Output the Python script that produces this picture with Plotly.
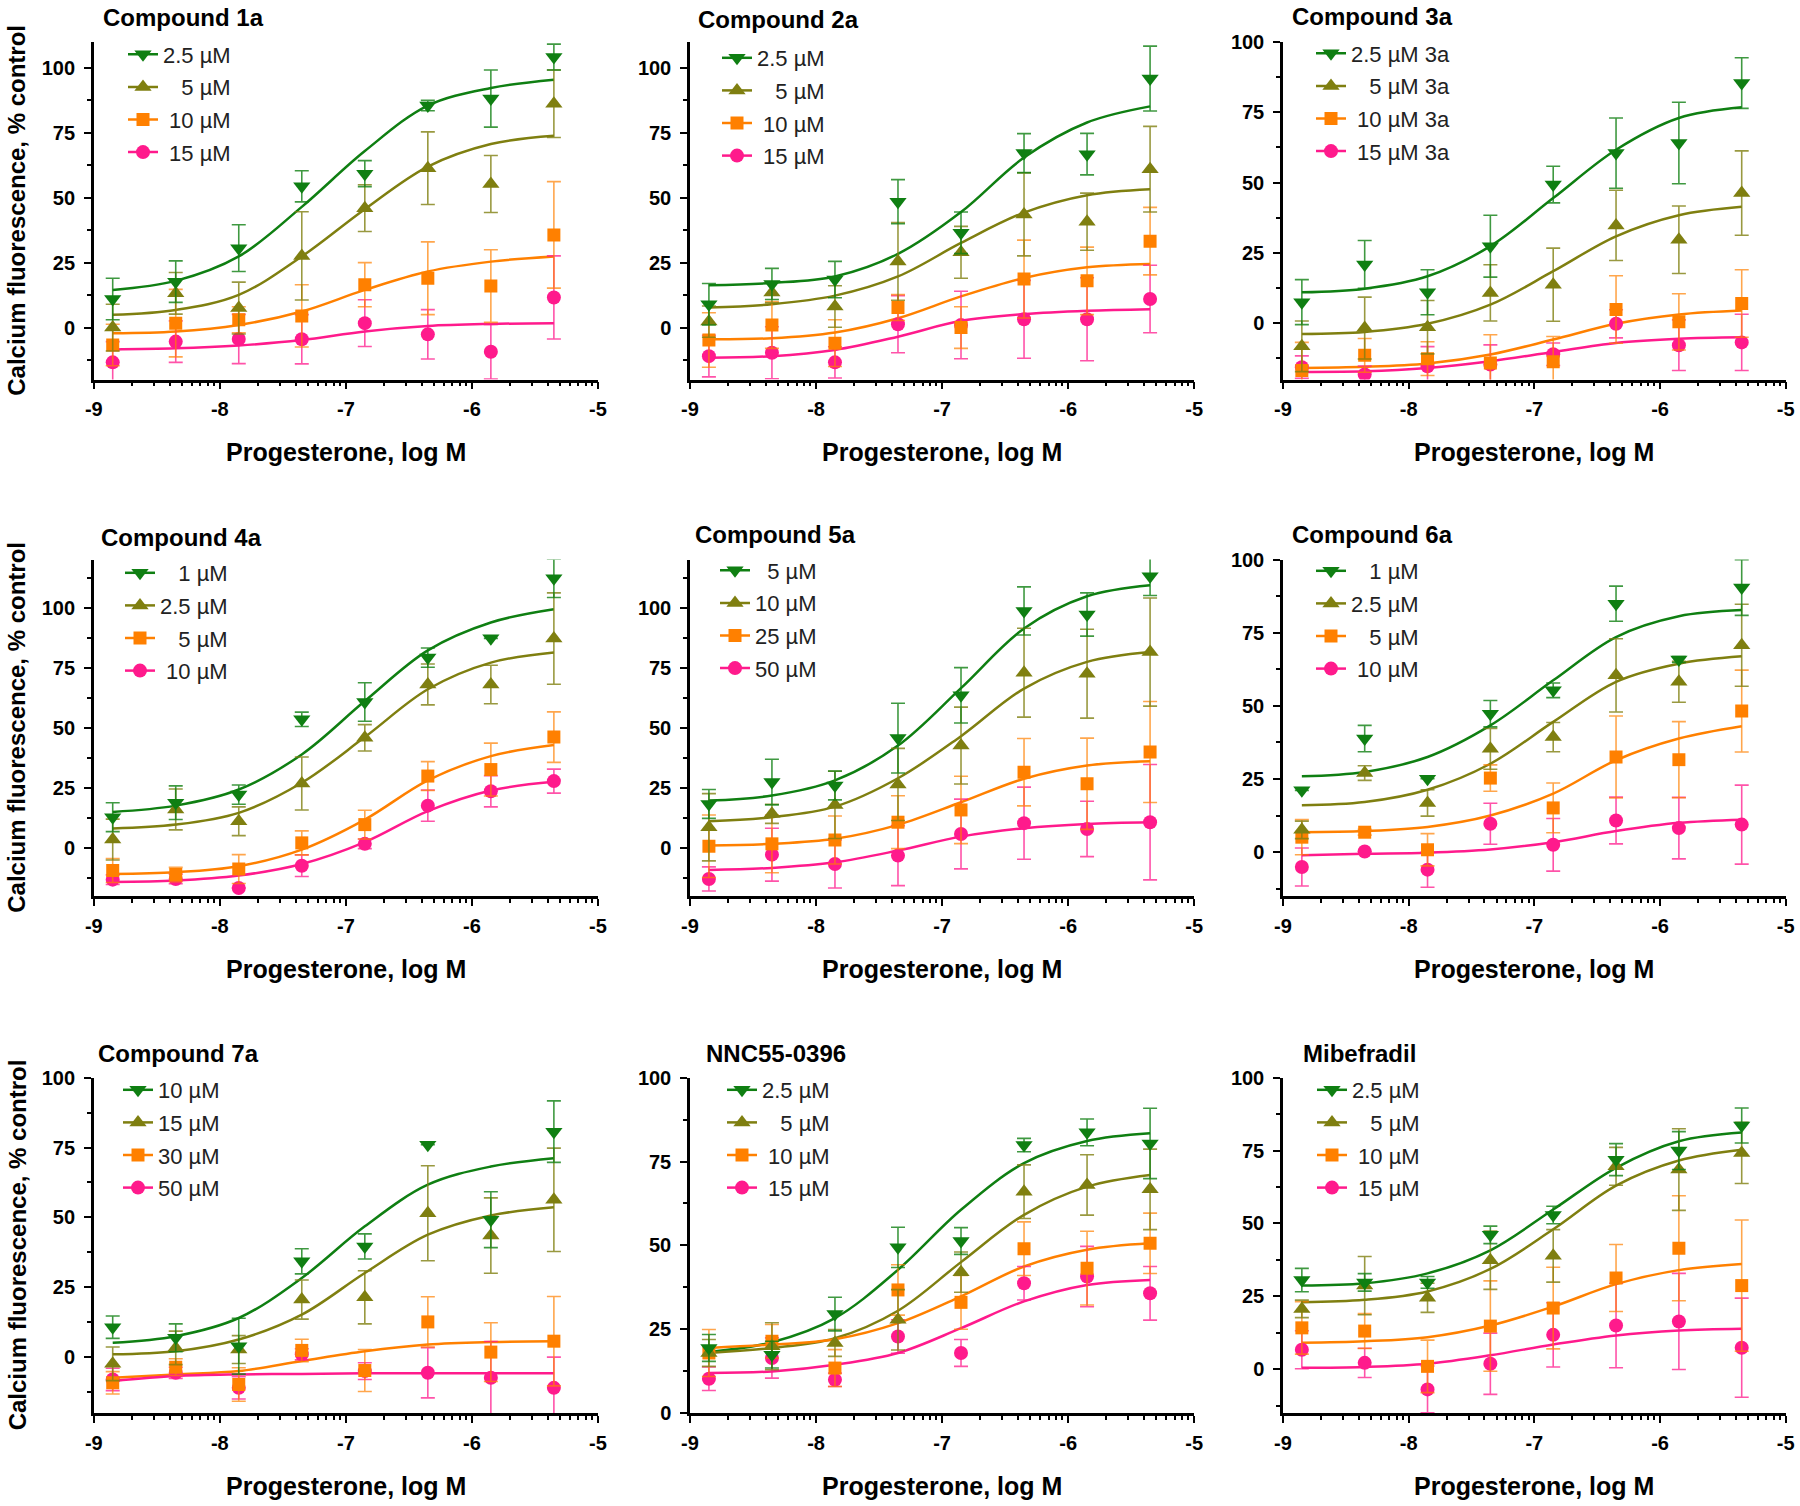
import numpy as np
import plotly.graph_objects as go

# ----------------------------------------------------------
# Data
# ----------------------------------------------------------

LOG_DOSE = [-8.85, -8.35, -7.85, -7.35, -6.85, -6.35, -5.85, -5.35]

X_TICKVALS = [-9, -8, -7, -6, -5]
X_TICKTEXT = ["-9", "-8", "-7", "-6", "-5"]

TITLES = ["Compound 1a", "Compound 2a", "Compound 3a",
          "Compound 4a", "Compound 5a", "Compound 6a",
          "Compound 7a", "NNC55-0396", "Mibefradil"]

LABELS_1A = ["2.5 µM", "5 µM", "10 µM", "15 µM"]
LABELS_2A = ["2.5 µM", "5 µM", "10 µM", "15 µM"]
LABELS_3A = ["2.5 µM 3a", "5 µM 3a", "10 µM 3a", "15 µM 3a"]
LABELS_4A = ["1 µM", "2.5 µM", "5 µM", "10 µM"]
LABELS_5A = ["5 µM", "10 µM", "25 µM", "50 µM"]
LABELS_6A = ["1 µM", "2.5 µM", "5 µM", "10 µM"]
LABELS_7A = ["10 µM", "15 µM", "30 µM", "50 µM"]
LABELS_NNC = ["2.5 µM", "5 µM", "10 µM", "15 µM"]
LABELS_MIB = ["2.5 µM", "5 µM", "10 µM", "15 µM"]

# mean response, error (±) and fitted curve value at each dose;
# rows = lowest to highest compound concentration

MEAN_1A = [[11, 17.7, 30.6, 54.4, 59.3, 85.5, 88.2, 104.2],
           [0, 13.2, 7.5, 27.6, 46, 61.4, 55.3, 86.2],
           [-6.7, 1.7, 3, 4.5, 16.5, 19, 16, 35.7],
           [-13.4, -5.4, -4.4, -4.5, 1.7, -2.6, -9.3, 11.6]]
ERR_1A = [[8, 8, 9, 6, 5, 2, 11, 5],
          [9, 8, 10, 17, 9, 14, 11, 13],
          [8, 13, 5, 12, 8.5, 14, 14, 20.5],
          [8, 8, 9.5, 9.5, 9, 9.5, 10.5, 16]]
FIT_1A = [[14.5, 18, 27.4, 46.5, 68, 85.5, 92.3, 95.5],
          [4.9, 6.8, 12.6, 27.4, 45.6, 62, 70.7, 73.9],
          [-2.2, -1.5, 1, 6.2, 14.5, 21.6, 25.4, 27.4],
          [-8.4, -8, -6.9, -4.8, -1.5, 0.6, 1.4, 1.7]]

MEAN_2A = [[9, 16.8, 18.5, 48.5, 36.5, 67.2, 66.8, 95.9],
           [2.3, 13.5, 8.1, 25.5, 29, 43.6, 40.8, 61],
           [-4.8, 1, -6, 7.7, 0, 18.7, 18, 33.3],
           [-11, -9.7, -13.4, 1.3, 1, 3.2, 3.2, 11]]
ERR_2A = [[8, 6, 7, 8.5, 8, 7.5, 8, 12.5],
          [6, 4, 8, 15, 10, 16, 11, 16.5],
          [10.5, 9, 9, 5, 8, 15, 13, 13],
          [8, 10, 6, 11, 13, 15, 16, 13]]
FIT_2A = [[16.3, 17.2, 19.7, 28.4, 44.5, 65.5, 79, 85.2],
          [7.7, 9, 12.3, 19.7, 32.6, 44.3, 51, 53.3],
          [-4.5, -4.1, -1.9, 3.6, 12, 19.1, 23.2, 24.5],
          [-11.6, -11, -8.6, -3.5, 2.6, 5.2, 6.5, 7.1]]

MEAN_3A = [[7.5, 20.9, 11, 27.4, 49.3, 60.5, 64.1, 85.4],
           [-8.2, -1.7, -1.4, 10.8, 13.7, 34.8, 29.7, 46.3],
           [-16.8, -11.4, -12.6, -14.1, -13.7, 4.9, 0.5, 7],
           [-15.6, -18.2, -15.3, -14.7, -11, -0.2, -7.8, -6.8]]
ERR_3A = [[8, 8.5, 8, 11, 6.5, 12.5, 14.5, 9],
          [9, 11, 9.5, 10, 13, 12.5, 12, 15],
          [10, 6, 6, 10, 9, 12, 10, 12],
          [4, 3, 7, 7, 4, 5, 9, 10]]
FIT_3A = [[11, 12.3, 16.7, 27.4, 44.5, 61.7, 73, 76.8],
          [-3.8, -3.1, -0.2, 6.6, 18.5, 30.9, 38.4, 41.4],
          [-15.9, -15.5, -14.3, -11.1, -5.8, -0.2, 3.1, 4.5],
          [-17.3, -17.1, -15.9, -13.5, -10.2, -7, -5.5, -5]]

MEAN_4A = [[12.8, 18.8, 22.2, 53.5, 60.7, 79.2, 87.2, 112.2],
           [3.5, 16, 11.1, 26.8, 45.8, 68, 68, 87.1],
           [-9.4, -11.1, -8.8, 2.1, 9.7, 29.9, 32.6, 46.1],
           [-13.2, -12.9, -16.7, -7.4, 1.7, 17.6, 23.6, 27.8]]
ERR_4A = [[6, 7, 4, 3, 8, 4, 0, 8],
          [8.5, 8.5, 6, 11, 5.5, 8.5, 8, 19],
          [5, 3, 6, 5, 6, 6, 11, 10.5],
          [2, 2, 0, 4.5, 2, 6.5, 6.5, 5]]
FIT_4A = [[15, 17.6, 24.3, 38.9, 61.1, 82.2, 93.8, 99.3],
          [8.1, 9.7, 14.6, 27.1, 46.1, 66, 77.1, 81.3],
          [-10.8, -10.1, -7.6, -0.7, 11.8, 28.1, 38.2, 42.8],
          [-14.2, -13.6, -11.5, -6.7, 2.4, 15.3, 23.9, 27.5]]

MEAN_5A = [[18.3, 27.4, 26, 45.7, 63.5, 98.6, 97.1, 113],
           [8.6, 14.2, 17.9, 26.4, 42.6, 72.9, 72.5, 81.5],
           [0.7, 1.7, 3.3, 10.7, 15.8, 31.5, 26.7, 39.9],
           [-12.9, -2.8, -6.7, -3.2, 5.8, 10.3, 7.9, 10.7]]
ERR_5A = [[6, 9.5, 6, 14.5, 11.5, 10, 9, 8],
          [14, 4, 14, 15, 16, 18.5, 18.5, 22.5],
          [13, 12, 10, 11, 14, 14, 19, 21],
          [5, 11, 10, 12.5, 14.5, 15, 11.5, 24]]
FIT_5A = [[19.7, 21.8, 28.1, 42.6, 66.5, 91.3, 104.7, 109.3],
          [11.1, 12.8, 17.2, 29, 46.5, 66.3, 77.4, 81.5],
          [1, 1.7, 3.8, 9.6, 19, 28.8, 34.3, 36.1],
          [-9.2, -8.3, -6, -1.1, 4.7, 8.2, 10, 10.7]]

MEAN_6A = [[21.1, 38.8, 25.1, 47.3, 55.3, 84.9, 65.8, 90.4],
           [7.6, 27, 16.8, 35.3, 39.3, 60.4, 58.2, 70.7],
           [5.1, 6.8, 0.8, 25.3, 15.1, 32.5, 31.6, 48.2],
           [-5.1, 0.2, -6, 9.7, 2.5, 10.8, 8.2, 9.4]]
ERR_6A = [[0, 4.5, 0, 4.5, 2.5, 6, 1, 9.5],
          [3, 2.5, 4.5, 7, 5, 12.5, 7, 14],
          [6, 1, 5.5, 4.5, 8.5, 14, 13, 14],
          [6.5, 0, 6, 7, 9, 8, 10.5, 13.5]]
FIT_6A = [[25.9, 27.4, 32.5, 43.3, 58.7, 73.5, 80.6, 82.7],
          [16, 17.1, 21.3, 30.2, 44.5, 58.2, 64.4, 66.9],
          [6.8, 7.2, 8.6, 12.5, 20, 31.4, 38.8, 43],
          [-1.1, -0.6, -0.2, 0.9, 3.4, 7.2, 10, 11.1]]

MEAN_7A = [[10.7, 6.9, 3.9, 34.3, 39.6, 76, 49.2, 80.7],
           [-2.4, 3.3, 2.7, 20.6, 21.4, 51.5, 43.5, 56.3],
           [-9.2, -3.6, -9.8, 2.4, -4.8, 12.6, 1.8, 5.7],
           [-8, -5.6, -11, 1, -5, -5.6, -7.4, -11]]
ERR_7A = [[4, 5, 10, 4.5, 4.5, 0, 10, 11],
          [6, 6, 5, 7, 9.5, 17, 13.5, 18.5],
          [4, 3, 6, 4, 7.5, 9, 10.5, 16],
          [4, 2, 4, 2, 3, 9, 13, 11]]
FIT_7A = [[5.1, 7.5, 14, 28.3, 46.8, 61.7, 68.2, 71.2],
          [1, 2.1, 6.3, 15.2, 30.1, 43.8, 50.7, 53.6],
          [-7.4, -6.2, -5, -1.4, 2.1, 4.5, 5.4, 5.7],
          [-8.6, -6.8, -6.2, -6, -5.8, -5.8, -5.8, -5.8]]

MEAN_NNC = [[19.4, 17.4, 29.5, 49.4, 51.3, 79.9, 83.7, 80.4],
            [17.9, 19.9, 20.9, 27.8, 42, 66, 68, 66.7],
            [17.9, 21.4, 13.4, 36.7, 33, 49, 43.2, 50.6],
            [10.2, 16.4, 9.9, 22.8, 17.9, 38.7, 40.7, 35.7]]
ERR_NNC = [[4, 4, 5, 6, 4, 2, 4, 10.5],
           [4, 7, 4, 9, 6, 8, 9, 12],
           [7, 5, 5.5, 7.5, 8, 8, 11, 9],
           [3.5, 6, 2, 5, 4, 5, 9, 8]]
FIT_NNC = [[18.2, 21.1, 28.3, 42.7, 60.6, 74.5, 81.1, 83.4],
           [17.9, 19.4, 22.3, 30.5, 45, 59.1, 67.5, 71],
           [19.4, 20.4, 22, 26.8, 34.8, 43.7, 48.7, 50.6],
           [11.9, 12.4, 14.4, 17.9, 25.3, 33.3, 38.2, 39.7]]

MEAN_MIB = [[30.6, 29.8, 29.8, 46.1, 52.9, 71.9, 75, 83.6],
            [20.7, 28.7, 24.5, 37.4, 38.9, 69.6, 68.5, 74.2],
            [14.2, 13.1, 1, 14.8, 21, 31.3, 41.5, 28.7],
            [6.7, 2.2, -6.9, 1.9, 11.8, 15, 16.4, 7.4]]
ERR_MIB = [[4, 3, 2, 3, 3, 5.5, 6.5, 6],
           [3, 10, 5, 10, 9, 6.5, 14, 10.5],
           [9, 6, 9, 15.5, 14, 11.5, 18, 22.5],
           [6.5, 5, 8, 10.5, 11, 14.5, 16.5, 17]]
FIT_MIB = [[28.7, 29.5, 32.9, 40.8, 54.8, 69.1, 78.2, 81.2],
           [23, 23.8, 26.7, 34.4, 48, 63, 71.6, 75.3],
           [9.1, 9.6, 11, 15, 21.5, 29.2, 34, 36.1],
           [0.5, 0.8, 1.9, 4.8, 8.5, 11.6, 13.3, 13.9]]

Y_RANGES = [(-20, 110), (-20, 110), (-20, 100),
            (-20, 120), (-20, 120), (-15, 100),
            (-20, 100), (0, 100), (-15, 100)]


# ==========================================================
# Style
# ==========================================================

W, H = 1800, 1506
FONT = "Liberation Sans"

COLORS = ["#0f7f12", "#7f7f10", "#ff8000", "#ff1a8c"]
ERR_COLORS = ["rgba(15,127,18,0.8)", "rgba(127,127,16,0.8)",
              "rgba(255,128,0,0.7)", "rgba(255,26,140,0.75)"]
SYMBOLS = ["triangle-down", "triangle-up", "square", "circle"]
SIZES = [15, 15, 13, 14]

# plot areas in pixels (left, right) / (top, bottom)
COL_X = [(93.8, 598.0), (690.0, 1194.2), (1283.0, 1785.7)]
ROW_Y = [(42.0, 379.5), (559.5, 896.0), (1077.7, 1413.0)]

TITLE_POS = [(101, 18), (696, 20), (1290, 17),
             (99, 537), (693, 534), (1290, 534),
             (96, 1053), (704, 1053), (1301, 1053)]
LEGEND_POS = [(123, 33.5), (717, 37), (1311, 32.5),
              (120, 552), (715, 549.5), (1311, 550),
              (118, 1069), (722, 1069), (1312, 1069)]


def px_x(v):
    return v / W


def px_y(v):
    return 1 - v / H


def num_units(label):
    # nbsp = 0.278 em, digit = 0.556 em
    return sum(2 if c.isdigit() else 1 for c in label.split(" ")[0])


PANELS = [
    (LABELS_1A, MEAN_1A, ERR_1A, FIT_1A),
    (LABELS_2A, MEAN_2A, ERR_2A, FIT_2A),
    (LABELS_3A, MEAN_3A, ERR_3A, FIT_3A),
    (LABELS_4A, MEAN_4A, ERR_4A, FIT_4A),
    (LABELS_5A, MEAN_5A, ERR_5A, FIT_5A),
    (LABELS_6A, MEAN_6A, ERR_6A, FIT_6A),
    (LABELS_7A, MEAN_7A, ERR_7A, FIT_7A),
    (LABELS_NNC, MEAN_NNC, ERR_NNC, FIT_NNC),
    (LABELS_MIB, MEAN_MIB, ERR_MIB, FIT_MIB),
]

minor_x = [d + np.log10(k) for d in range(-9, -5) for k in range(2, 10)]

tick_font = dict(family=FONT, size=20, color="black", weight="bold")

fig = go.Figure()
annotations = []

for i, (labels, means, errs, fits) in enumerate(PANELS):
    n = i + 1
    sfx = "" if n == 1 else str(n)
    xa, ya = "x" + sfx, "y" + sfx
    leg = "legend" + sfx
    row, col = divmod(i, 3)
    x0, x1 = COL_X[col]
    y0, y1 = ROW_Y[row]

    width = max(num_units(l) for l in labels)

    # fitted curves
    for s in range(4):
        fig.add_trace(go.Scatter(
            x=LOG_DOSE, y=fits[s], mode="lines",
            line=dict(color=COLORS[s], width=2.5, shape="spline", smoothing=1.0),
            xaxis=xa, yaxis=ya, showlegend=False, hoverinfo="skip"))

    # data points with error bars (highest concentration drawn first)
    for s in reversed(range(4)):
        fig.add_trace(go.Scatter(
            x=LOG_DOSE, y=means[s], mode="markers",
            marker=dict(symbol=SYMBOLS[s], size=SIZES[s], color=COLORS[s], line=dict(width=0)),
            error_y=dict(type="data", array=errs[s], visible=True,
                         color=ERR_COLORS[s], thickness=1.6, width=7),
            xaxis=xa, yaxis=ya, showlegend=False, name=labels[s]))

    # legend entries (line + marker)
    for s in range(4):
        fig.add_trace(go.Scatter(
            x=[None], y=[None], mode="lines+markers",
            name="\u00a0" * (width - num_units(labels[s])) + labels[s],
            line=dict(color=COLORS[s], width=2.5),
            marker=dict(symbol=SYMBOLS[s], size=SIZES[s], color=COLORS[s]),
            xaxis=xa, yaxis=ya, legend=leg, legendgroup=f"p{n}s{s}"))

    lx, ly = LEGEND_POS[i]
    fig.update_layout({
        leg: dict(x=px_x(lx), y=px_y(ly), xanchor="left", yanchor="top",
                  bgcolor="rgba(0,0,0,0)", borderwidth=0,
                  tracegroupgap=1, itemwidth=30,
                  font=dict(family=FONT, size=22, color="#222222")),
        "xaxis" + sfx: dict(
            domain=[px_x(x0), px_x(x1)], anchor=ya, range=[-9, -5],
            tickmode="array", tickvals=X_TICKVALS, ticktext=X_TICKTEXT,
            ticks="outside", ticklen=7, tickwidth=2, tickcolor="black",
            minor=dict(tickmode="array", tickvals=minor_x, ticks="outside",
                       ticklen=4, tickwidth=2, tickcolor="black"),
            showline=True, linecolor="black", linewidth=2.5,
            showgrid=False, zeroline=False, ticklabelstandoff=3,
            ticklabeloverflow="allow", automargin=False, tickfont=tick_font),
        "yaxis" + sfx: dict(
            domain=[px_y(y1), px_y(y0)], anchor=xa, range=list(Y_RANGES[i]),
            tickmode="linear", tick0=0, dtick=25,
            ticks="outside", ticklen=7, tickwidth=2, tickcolor="black",
            minor=dict(dtick=12.5, tick0=0, ticks="outside",
                       ticklen=4, tickwidth=2, tickcolor="black"),
            showline=True, linecolor="black", linewidth=2.5,
            showgrid=False, zeroline=False, ticklabelstandoff=5,
            ticklabeloverflow="allow", automargin=False, tickfont=tick_font),
    })

    tx, ty = TITLE_POS[i]
    annotations.append(dict(
        text=TITLES[i], x=px_x(tx), y=px_y(ty), xref="paper", yref="paper",
        xanchor="left", yanchor="middle", showarrow=False,
        font=dict(family=FONT, size=24, color="black", weight="bold")))

    annotations.append(dict(
        text="Progesterone, log M", x=px_x((x0 + x1) / 2), y=px_y(y1 + 73),
        xref="paper", yref="paper", xanchor="center", yanchor="middle",
        showarrow=False, font=dict(family=FONT, size=25, color="black", weight="bold")))

    if col == 0:
        annotations.append(dict(
            text="Calcium fluorescence, % control", x=px_x(17), y=px_y((y0 + y1) / 2),
            xref="paper", yref="paper", xanchor="center", yanchor="middle",
            textangle=-90, showarrow=False,
            font=dict(family=FONT, size=24, color="black", weight="bold")))

fig.update_layout(
    width=W, height=H,
    margin=dict(l=0, r=0, t=0, b=0, autoexpand=False),
    paper_bgcolor="white", plot_bgcolor="white",
    font=dict(family=FONT, color="black"),
    annotations=annotations,
)

# drop the default 8px page margin so the figure fills the window exactly
fig.write_html("out.html",
               config={"displayModeBar": False},
               post_script="document.body.style.margin = '0';")
